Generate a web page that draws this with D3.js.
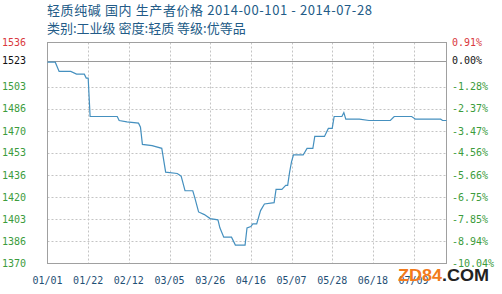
<!DOCTYPE html>
<html><head><meta charset="utf-8">
<script src="https://cdn.jsdelivr.net/npm/d3@7"></script>
<style>html,body{margin:0;padding:0;background:#fff;}svg{display:block;}</style>
</head><body>
<script>
const title1 = "轻质纯碱 国内 生产者价格 2014-00-101 - 2014-07-28";
const title2 = "类别:工业级 密度:轻质 等级:优等品";
const basePrice = 1523;
const pctTicks = [0.91, 0.00, -1.28, -2.37, -3.47, -4.56, -5.66, -6.75, -7.85, -8.94, -10.04];
const pctLabels = ["0.91%", "0.00%", "-1.28%", "-2.37%", "-3.47%", "-4.56%", "-5.66%", "-6.75%", "-7.85%", "-8.94%", "-10.04%"];
const priceLabels = ["1536", "1523", "1503", "1486", "1470", "1453", "1436", "1420", "1403", "1386", "1370"];
const xTickDates = ["2014-01-01","2014-01-22","2014-02-12","2014-03-05","2014-03-26","2014-04-16","2014-05-07","2014-05-28","2014-06-18","2014-07-09"];
const xTickLabels = ["01/01","01/22","02/12","03/05","03/26","04/16","05/07","05/28","06/18","07/09"];
const xEnd = "2014-07-26";
const dates = ["2014-01-01","2014-01-05","2014-01-07","2014-01-13","2014-01-16","2014-01-20","2014-01-21","2014-01-22","2014-01-23","2014-02-06",
"2014-02-07","2014-02-11","2014-02-17","2014-02-18","2014-02-19","2014-02-24","2014-03-01","2014-03-03","2014-03-09","2014-03-11",
"2014-03-13","2014-03-17","2014-03-18","2014-03-20","2014-03-23","2014-03-26","2014-03-30","2014-03-31","2014-04-02","2014-04-06",
"2014-04-08","2014-04-13","2014-04-14","2014-04-16","2014-04-17","2014-04-19","2014-04-21","2014-04-23","2014-04-28","2014-04-29",
"2014-05-02","2014-05-04","2014-05-05","2014-05-06","2014-05-07","2014-05-08","2014-05-13","2014-05-15","2014-05-18","2014-05-19",
"2014-05-24","2014-05-26","2014-05-28","2014-05-29","2014-06-02","2014-06-03","2014-06-04","2014-06-11","2014-06-16","2014-06-17",
"2014-06-27","2014-06-29","2014-07-08","2014-07-10","2014-07-23","2014-07-24","2014-07-26"];
const prices = [1522,1522,1515,1515,1513,1513,1510,1510,1481,1481,
1478,1477,1476,1473,1460,1459,1457,1439,1438,1436,
1425,1425,1420,1409,1407,1404,1403,1397,1390,1390,
1384,1384,1397,1398,1400,1400,1410,1415,1416,1426,
1426,1429,1429,1439,1447,1452,1452,1457,1457,1466,
1466,1472,1472,1481,1481,1484,1479,1479,1478,1478,
1478,1481,1481,1479,1479,1478,1478];

const W = 502, H = 294;
const L = 47.5, R = 446.5, T = 42.5, B = 263.5;
const parse = d3.utcParse("%Y-%m-%d");
const data = dates.map((d, i) => ({date: parse(d), v: prices[i]}));
const pv = p => basePrice * (1 + p / 100);

const x = d3.scaleUtc().domain([parse(dates[0]), parse(xEnd)]).range([L, R]);
const y = d3.scaleLinear().domain([pv(d3.min(pctTicks)), pv(d3.max(pctTicks))]).range([B, T]);

const svg = d3.select("body").append("svg").attr("width", W).attr("height", H);

// titles
const cjk = "'Noto Sans CJK SC', 'Noto Sans', sans-serif";
svg.append("text").attr("x", 47).attr("y", 14.5).attr("fill", "#225b87")
  .attr("font-family", cjk).attr("font-size", 13)
  .attr("textLength", 325).attr("lengthAdjust", "spacing").text(title1);
svg.append("text").attr("x", 47).attr("y", 33).attr("fill", "#225b87")
  .attr("font-family", cjk).attr("font-size", 13).text(title2);

// horizontal grid (dashed)
const inner = pctTicks.slice(2, -1);
svg.append("g").selectAll("line").data(inner).join("line")
  .attr("x1", L).attr("x2", R)
  .attr("y1", d => Math.round(y(pv(d))) + 0.5).attr("y2", d => Math.round(y(pv(d))) + 0.5)
  .attr("stroke", "#c4c4c4").attr("stroke-dasharray", "2,2");

// vertical grid (dashed)
svg.append("g").selectAll("line").data(xTickDates.slice(1)).join("line")
  .attr("x1", d => Math.round(x(parse(d))) + 0.5).attr("x2", d => Math.round(x(parse(d))) + 0.5)
  .attr("y1", T).attr("y2", B)
  .attr("stroke", "#c4c4c4").attr("stroke-dasharray", "2,2");

// baseline
svg.append("line").attr("x1", L).attr("x2", R)
  .attr("y1", Math.round(y(basePrice)) + 0.5).attr("y2", Math.round(y(basePrice)) + 0.5)
  .attr("stroke", "#9a9a9a");

// frame
svg.append("rect").attr("x", L).attr("y", T).attr("width", R - L).attr("height", B - T)
  .attr("fill", "none").attr("stroke", "#a0a0a0");

// line
svg.append("path").datum(data)
  .attr("d", d3.line().x(d => x(d.date)).y(d => y(d.v)))
  .attr("fill", "none").attr("stroke", "#4590bf").attr("stroke-width", 1.2);

// axis labels
const mono = "'DejaVu Sans Mono', 'Liberation Mono', monospace";
const col = i => i === 0 ? "#d9383c" : (i === 1 ? "#111" : "#3c9c3c");
svg.append("g").selectAll("text").data(pctTicks).join("text")
  .attr("x", 2).attr("y", d => y(pv(d))).attr("dy", "0.36em")
  .attr("fill", (d, i) => col(i)).attr("font-family", mono).attr("font-size", 10)
  .text((d, i) => priceLabels[i]);
svg.append("g").selectAll("text").data(pctTicks).join("text")
  .attr("x", 452).attr("y", d => y(pv(d))).attr("dy", "0.36em")
  .attr("fill", (d, i) => col(i)).attr("font-family", mono).attr("font-size", 10)
  .text((d, i) => pctLabels[i]);
svg.append("g").selectAll("text").data(xTickDates).join("text")
  .attr("x", d => x(parse(d))).attr("y", 284).attr("text-anchor", "middle")
  .attr("fill", "#1f4f75").attr("font-family", mono).attr("font-size", 10)
  .text((d, i) => xTickLabels[i]);

// watermark (overlaps the last tick label, as in the reference)
const wm = svg.append("text").attr("x", 398).attr("y", 281)
  .attr("font-family", "'Liberation Sans', Arial, sans-serif").attr("font-weight", "bold")
  .attr("font-size", 17).attr("textLength", 91).attr("lengthAdjust", "spacingAndGlyphs");
wm.append("tspan").attr("fill", "#f27b1c").text("ZD84");
wm.append("tspan").attr("fill", "#222").text(".COM");
</script>
</body></html>
